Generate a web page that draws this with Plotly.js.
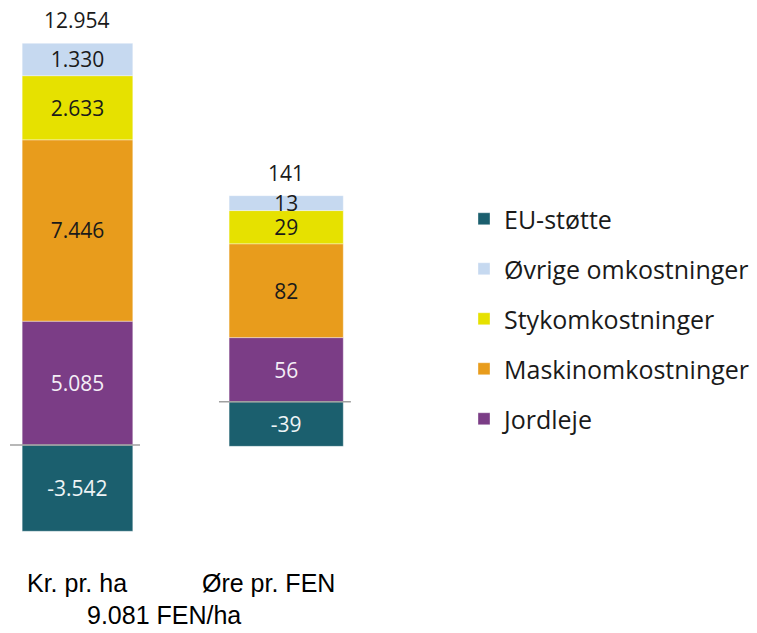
<!DOCTYPE html>
<html>
<head>
<meta charset="utf-8">
<script src="https://cdn.plot.ly/plotly-3.0.1.min.js"></script>
<style>html,body{margin:0;padding:0;background:#fff;}#chart{width:757px;height:633px;}</style>
</head>
<body>
<div id="chart"></div>
<script>
const categories = ['Kr. pr. ha', 'Øre pr. FEN'];
const seriesNames = ['EU-støtte', 'Jordleje', 'Maskinomkostninger', 'Stykomkostninger', 'Øvrige omkostninger'];
const euStotte = [-3542, -39];
const jordleje = [5085, 56];
const maskinomkostninger = [7446, 82];
const stykomkostninger = [2633, 29];
const ovrigeOmkostninger = [1330, 13];
const totals = [12954, 141];
const subLabel = '9.081 FEN/ha';

const seriesValues = [euStotte, jordleje, maskinomkostninger, stykomkostninger, ovrigeOmkostninger];
const colors = ['#1b5f6e', '#7b3d86', '#e89c1c', '#e6e100', '#c6d9f0'];
const textColors = ['#eef4f6', '#f4eef6', '#1a1a1a', '#1a1a1a', '#1a1a1a'];
const ranks = [1, 5, 4, 3, 2];

function fmt(v) {
  const s = String(Math.abs(v)).replace(/\B(?=(\d{3})+(?!\d))/g, '.');
  return (v < 0 ? '-' : '') + s;
}

const numFont = 'Open Sans, sans-serif';
const traces = [];
const barWidths = [0.53, 0.547];
seriesNames.forEach((name, si) => {
  categories.forEach((cat, ci) => {
    const v = seriesValues[si][ci];
    traces.push({
      type: 'bar',
      name: name,
      legendgroup: name,
      legendrank: ranks[si],
      showlegend: ci === 0,
      x: [ci],
      y: [v],
      yaxis: ci === 0 ? 'y' : 'y2',
      width: barWidths[ci],
      marker: {color: colors[si], line: {width: 0.6, color: 'rgba(255,255,255,0.6)'}},
      text: [fmt(v)],
      textposition: 'inside',
      insidetextanchor: 'middle',
      textangle: 0,
      constraintext: 'none',
      textfont: {family: numFont, size: 21, color: textColors[si]},
      hoverinfo: 'skip'
    });
  });
});

const annotations = [];
categories.forEach((cat, ci) => {
  const posSum = seriesValues.reduce((a, arr) => a + (arr[ci] > 0 ? arr[ci] : 0), 0);
  annotations.push({
    x: ci, y: posSum, xref: 'x', yref: ci === 0 ? 'y' : 'y2',
    text: fmt(totals[ci]), showarrow: false, yanchor: 'middle', yshift: 23,
    font: {family: numFont, size: 21, color: '#1a1a1a'}
  });
});
const labelFont = {family: 'Liberation Sans, Arial, sans-serif', size: 25, color: '#000'};
annotations.push({x: 76.5/360, y: -0.0796, xref: 'paper', yref: 'paper', text: categories[0], showarrow: false, xanchor: 'center', yanchor: 'middle', font: labelFont});
annotations.push({x: 268.5/360, y: -0.0796, xref: 'paper', yref: 'paper', text: categories[1], showarrow: false, xanchor: 'center', yanchor: 'middle', font: labelFont});
annotations.push({x: 163.5/360, y: -0.138, xref: 'paper', yref: 'paper', text: subLabel, showarrow: false, xanchor: 'center', yanchor: 'middle', font: labelFont});

const layout = {
  width: 757, height: 633,
  margin: {l: 0, r: 397, t: 0, b: 93},
  paper_bgcolor: '#fff', plot_bgcolor: '#fff',
  barmode: 'relative',
  hovermode: false,
  xaxis: {range: [-0.3713, 1.3537], visible: false, fixedrange: true},
  yaxis: {range: [-3901, 18272], visible: false, fixedrange: true},
  yaxis2: {range: [-120.84, 351.0], visible: false, overlaying: 'y', fixedrange: true},
  showlegend: true,
  legend: {
    xref: 'container', yref: 'container', x: 464/757, y: 1 - 196/633, xanchor: 'left', yanchor: 'top',
    traceorder: 'grouped', tracegroupgap: 14.5,
    font: {family: numFont, size: 25, color: '#1a1a1a'},
    bgcolor: 'rgba(0,0,0,0)'
  },
  shapes: [
    {type: 'line', xref: 'x', yref: 'y', x0: -0.3234, x1: 0.2995, y0: 0, y1: 0, line: {color: '#a0a0a0', width: 1.5}},
    {type: 'line', xref: 'x', yref: 'y2', x0: 0.678, x1: 1.310, y0: 0, y1: 0, line: {color: '#a0a0a0', width: 1.5}}
  ],
  annotations: annotations
};

Plotly.newPlot('chart', traces, layout, {displayModeBar: false, staticPlot: true});
</script>
</body>
</html>
